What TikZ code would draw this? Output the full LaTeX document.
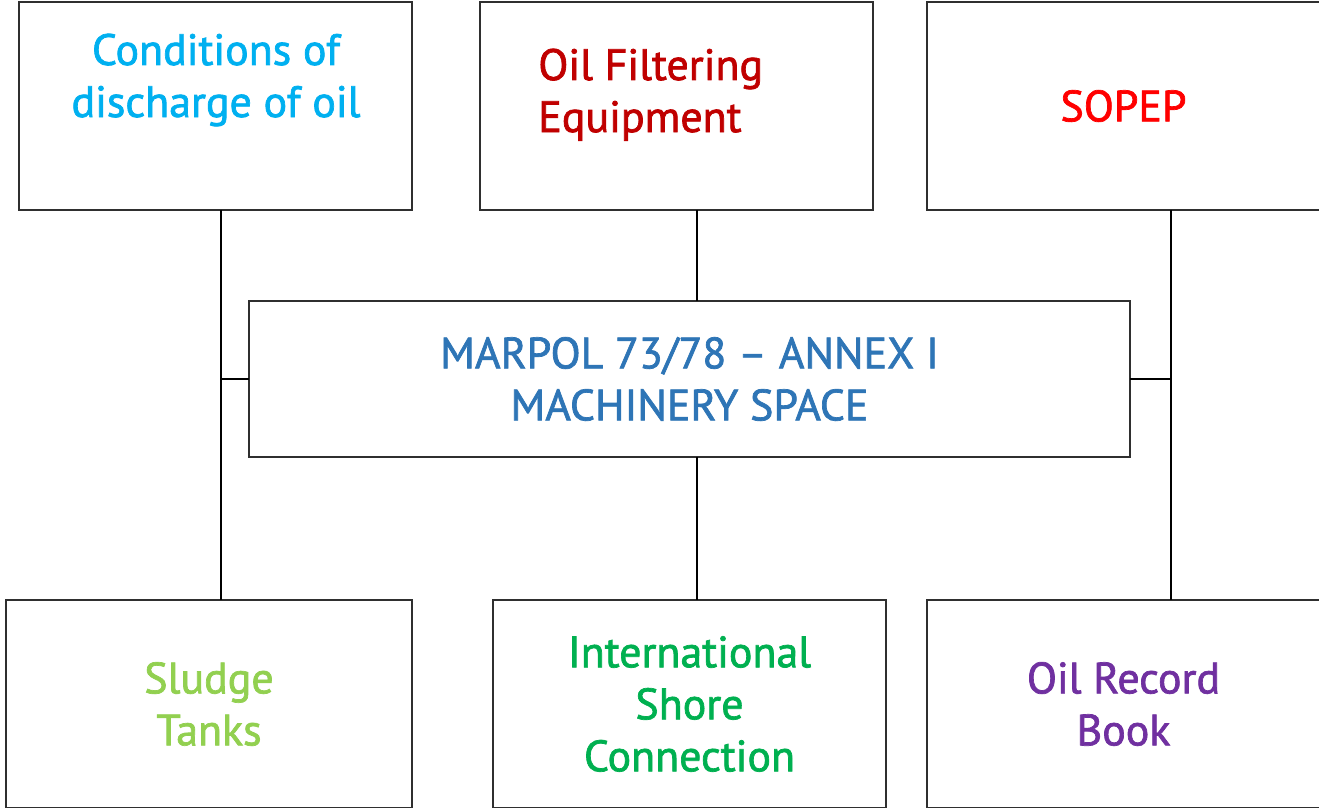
\documentclass[tikz,border=0pt]{standalone}
\usepackage{fontspec}
\setmainfont{PT Sans}[FakeBold=1.6]
\definecolor{MpFrame}{HTML}{2F2F2F}
\definecolor{MpCyan}{HTML}{00B0F0}
\definecolor{MpDarkRed}{HTML}{C00000}
\definecolor{MpRed}{HTML}{FF0000}
\definecolor{MpBlue}{HTML}{2E75B6}
\definecolor{MpLime}{HTML}{92D050}
\definecolor{MpGreen}{HTML}{00B050}
\definecolor{MpPurple}{HTML}{7030A0}
\begin{document}
\begin{tikzpicture}[x=0.02cm,y=-0.02cm,
      panel/.style={draw=MpFrame,line width=1pt,fill=white,inner sep=0pt,outer sep=0pt,
                    minimum width=7.86cm,minimum height=4.16cm,align=center,
                    font=\fontsize{25}{29.6}\selectfont},
      caption/.style={align=center,inner sep=0pt,font=\fontsize{25}{29.6}\selectfont},
      link/.style={line width=1.3pt,draw=black}]
    \useasboundingbox (0,0) rectangle (1319,808);
    \node[panel] (cond) at (215.5,106) {};
    \node[caption,text=MpCyan,anchor=base] (condtxt) at (216,117) {Conditions of\\discharge of oil};
    \node[panel] (filter) at (676.5,106) {};
    \node[caption,text=MpDarkRed,align=left,anchor=base west] (filtertxt) at (538,132) {Oil Filtering\\Equipment};
    \node[panel,text=MpRed] (sopep) at (1123.5,106) {SOPEP};
    \node[panel,minimum width=17.62cm,minimum height=3.12cm,text=MpBlue] (marpol) at (689.5,379)
      {MARPOL 73/78 – ANNEX I\\MACHINERY SPACE};
    \node[panel,minimum width=8.12cm,text=MpLime] (sludge) at (209,704) {Sludge\\Tanks};
    \node[panel,text=MpGreen] (isc) at (689.5,704) {International\\Shore\\Connection};
    \node[panel,text=MpPurple] (orb) at (1123.5,704) {Oil Record\\Book};
    \coordinate (lj) at (221,379);
    \coordinate (mj) at (697,379);
    \coordinate (rj) at (1171,379);
    \draw[link] (cond.south -| lj) -- (sludge.north -| lj);
    \draw[link] (lj) -- (marpol.west);
    \draw[link] (filter.south -| mj) -- (marpol.north -| mj);
    \draw[link] (marpol.south -| mj) -- (isc.north -| mj);
    \draw[link] (sopep.south -| rj) -- (orb.north -| rj);
    \draw[link] (marpol.east) -- (rj);
  \end{tikzpicture}
\end{document}
